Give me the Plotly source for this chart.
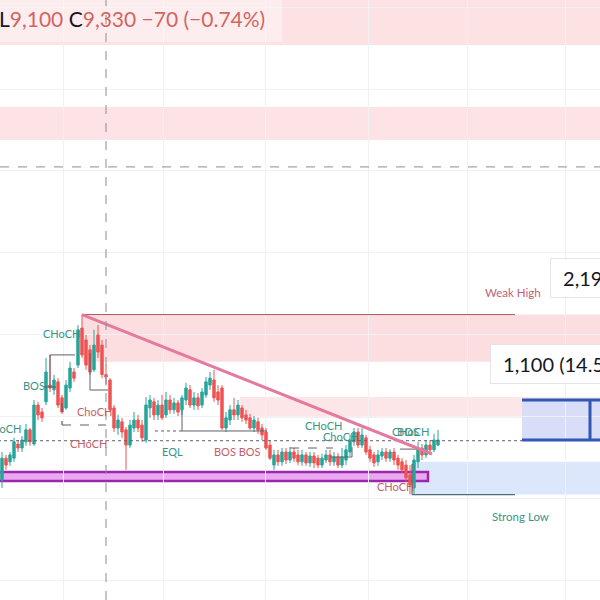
import plotly.graph_objects as go

# ---------------- data ----------------
bar_index = list(range(110))
opens = [6500, 7100, 7000, 7100, 7490, 7380, 7550, 7880, 7490, 8560,
         8370, 8650, 9110, 8980, 9200, 8760, 8480, 9030, 9470, 9660,
         10680, 10350, 10080, 9530, 10490, 10210, 9400, 9250, 8480, 7930,
         8100, 7880, 7460, 7930, 8150, 8010, 7600, 8480, 8650, 8290,
         8560, 8290, 8700, 8430, 8620, 8430, 8700, 8980, 8560, 8760,
         8560, 8840, 9110, 9250, 8920, 9030, 7930, 8150, 8430, 8290,
         8480, 8290, 8210, 7930, 8100, 7930, 7820, 7460, 6910, 7190,
         7000, 7270, 7050, 7270, 7190, 7000, 7190, 6970, 7160, 7100,
         6910, 7050, 7190, 7000, 7130, 6910, 7050, 7270, 7550, 7820,
         7460, 7660, 7330, 7190, 7000, 7160, 7270, 7100, 7270, 7100,
         7000, 6910, 6640, 6280, 7000, 7380, 7190, 7460, 7330, 7460]
highs = [7270, 7190, 7270, 7660, 7600, 7710, 8040, 7930, 8700, 8650,
         8480, 9860, 9940, 9390, 9300, 8840, 9250, 9750, 9580, 10760,
         11050, 10490, 10210, 10630, 10760, 10350, 9660, 9300, 8560, 8290,
         8210, 7960, 8150, 8370, 8290, 8150, 8780, 8840, 8760, 8700,
         8840, 8920, 8840, 8760, 8700, 8840, 9170, 9110, 8920, 8890,
         9030, 9330, 9470, 9530, 9110, 9110, 8370, 8560, 8760, 8700,
         8560, 8430, 8320, 8260, 8210, 8040, 7930, 7600, 7330, 7330,
         7380, 7380, 7410, 7380, 7330, 7330, 7270, 7270, 7270, 7190,
         7220, 7330, 7330, 7270, 7240, 7380, 7460, 7740, 7930, 7930,
         7930, 7740, 7440, 7270, 7330, 7380, 7380, 7350, 7380, 7190,
         7100, 7050, 6910, 7190, 7550, 7490, 7600, 7600, 7770, 7880]
lows = [6280, 6780, 6890, 7000, 7270, 7270, 7440, 7440, 7440, 8150,
        8100, 8560, 8920, 8840, 8480, 8320, 8430, 8920, 9200, 9580,
        9860, 9530, 9390, 9470, 9860, 9300, 9100, 8370, 7820, 7740,
        7660, 6780, 7380, 7820, 7820, 7550, 7520, 8210, 8150, 8150,
        8150, 8210, 8320, 8320, 8260, 8290, 8560, 8480, 8430, 8430,
        8480, 8760, 8980, 8650, 8560, 7880, 7820, 8010, 8150, 8150,
        8100, 8040, 7880, 7820, 7770, 7600, 7330, 7050, 6780, 6890,
        6890, 6940, 6970, 7000, 6910, 6890, 6890, 6860, 6830, 6830,
        6830, 6970, 6890, 6890, 6830, 6830, 6910, 7160, 7440, 7380,
        7380, 7190, 7000, 6860, 6890, 7050, 7000, 7000, 6910, 6780,
        6690, 6450, 6100, 6120, 6830, 7050, 7100, 7190, 7270, 7440]
closes = [7100, 6910, 7190, 7550, 7380, 7600, 7880, 7550, 8560, 8290,
          8210, 9470, 9030, 9250, 8560, 8370, 9110, 9580, 9300, 10630,
          9940, 9660, 9470, 10210, 10020, 9400, 9330, 8430, 7930, 8150,
          7820, 7460, 8010, 8150, 7930, 7660, 8560, 8700, 8290, 8560,
          8210, 8700, 8430, 8620, 8370, 8760, 9030, 8560, 8760, 8540,
          8920, 9200, 9300, 8760, 8700, 7930, 8210, 8430, 8290, 8560,
          8210, 8150, 7930, 8150, 7880, 7740, 7380, 7100, 7190, 7000,
          7270, 7050, 7270, 7100, 7000, 7190, 6970, 7160, 6970, 6910,
          7100, 7190, 7000, 7130, 6910, 7130, 7330, 7600, 7820, 7460,
          7740, 7270, 7100, 6970, 7190, 7270, 7100, 7270, 7050, 6910,
          6780, 6560, 6360, 7050, 7380, 7190, 7460, 7330, 7600, 7600]

# key price levels / zones
upper_zone_a = (18460, 19800)
upper_zone_b = (15850, 16760)
weak_high = 11050
supply_zone = (9750, 11050)
supply_zone_2 = (8210, 8780)
entry_price = 7600
target_price = 8700
strong_low = 6100
demand_zone = (6100, 7000)
purple_zone = (6470, 6720)
trend_start = (20, 11050)
trend_end = (107.5, 7215)
crosshair = (26, 15110)

legend_text = ("<span style='color:#131722'>L</span>9,100 "
               "<span style='color:#131722'>C</span>9,330 −70 (−0.74%)")

TEAL = "#3a9488"
RED = "#c25f69"
FONT = "Lato"

fig = go.Figure()
fig.add_trace(go.Candlestick(
    x=bar_index, open=opens, high=highs, low=lows, close=closes,
    increasing=dict(line=dict(color="#26a69a", width=1), fillcolor="#26a69a"),
    decreasing=dict(line=dict(color="#ef5350", width=1), fillcolor="#ef5350"),
    whiskerwidth=0, showlegend=False, hoverinfo="skip"))

XR = 149.5
shapes = []
def rect(x0, x1, y0, y1, fill, layer="below", line=None):
    shapes.append(dict(type="rect", xref="x", yref="y", x0=x0, x1=x1, y0=y0, y1=y1,
                       fillcolor=fill, line=line or dict(width=0), layer=layer))
def seg(x0, y0, x1, y1, color, width=1, dash="solid", layer="above"):
    shapes.append(dict(type="line", xref="x", yref="y", x0=x0, y0=y0, x1=x1, y1=y1,
                       line=dict(color=color, width=width, dash=dash), layer=layer))

rect(-1, XR, upper_zone_a[0], upper_zone_a[1], "#fde2e4")
rect(-1, XR, upper_zone_b[0], upper_zone_b[1], "#fde3e6")
rect(20, XR, supply_zone[0], supply_zone[1], "#fcdde0")
rect(59.5, XR, supply_zone_2[0], supply_zone_2[1], "#fde6e8")
rect(102.5, XR, demand_zone[0], demand_zone[1], "#dce7fb")
rect(130, XR, entry_price, target_price, "#d8def8")
rect(-1, 106.5, purple_zone[0], purple_zone[1], "#eaa8ef",
     line=dict(color="#9b27af", width=2.5))
# legend backdrop
shapes.append(dict(type="rect", xref="paper", yref="paper", x0=0, x1=0.47,
                   y0=1 - 42 / 600, y1=1, fillcolor="rgba(255,255,255,0.4)",
                   line=dict(width=0), layer="above"))

# weak high / strong low lines
seg(20, weak_high, 128.25, weak_high, "#b0585f", 1)
seg(102.5, strong_low, 128.25, strong_low, "#4d6f78", 1.2)
seg(102.5, strong_low, 102.5, demand_zone[1] - 60, "#4d6f78", 1.2)

# long position box lines
seg(130, target_price, XR, target_price, "#3157b7", 3)
seg(130, entry_price, XR, entry_price, "#3157b7", 3)
seg(147, entry_price, 147, target_price, "#3157b7", 3)

# price line
seg(-1, 7580, 130, 7580, "#5d606b", 1, "dot")

# market-structure lines
seg(12, 9940, 18.25, 9940, "#5d606b")
seg(12, 9940, 12, 9030, "#5d606b")
seg(10.5, 9060, 13.5, 9060, "#5d606b")
seg(22, 9990, 22, 8975, "#5d606b")
seg(22, 8975, 26.5, 8975, "#5d606b")
seg(15, 8620, 15, 8012, "#5d606b", 1.2, "dash")
seg(15, 8012, 26, 8012, "#5d606b", 1.2, "dash")
seg(38.25, 7848, 45, 7848, "#5d606b", 1, "dot")
seg(45, 7848, 66.25, 7848, "#5d606b")
seg(45, 8425, 45, 7848, "#5d606b")
seg(72, 7380, 82.75, 7380, "#5d606b", 1, "dash")
seg(82, 7133, 87.5, 7133, "#5d606b")
seg(87.5, 7133, 87.5, 7400, "#5d606b")
seg(99.5, 7350, 105, 7350, "#5d606b")

# trend line
seg(trend_start[0], trend_start[1], trend_end[0], trend_end[1], "#e47aa0", 3)

# crosshair
shapes.append(dict(type="line", xref="x", yref="paper", x0=crosshair[0], x1=crosshair[0],
                   y0=0, y1=1, line=dict(color="#8a8d96", width=1, dash="dash"), layer="above"))
shapes.append(dict(type="line", xref="paper", yref="y", x0=0, x1=1, y0=crosshair[1],
                   y1=crosshair[1], line=dict(color="#8a8d96", width=1, dash="dash"), layer="above"))

anns = []
def label(x, y, text, color, size=11, xanchor="center"):
    anns.append(dict(x=x, y=y, xref="x", yref="y", text=text, showarrow=False,
                     xanchor=xanchor, yanchor="middle",
                     font=dict(family=FONT, size=size, color=color)))

label(14.75, 10542, "CHoCH", TEAL)
label(8, 9112, "BOS", TEAL)
label(5.2, 7930, "CHoCH", TEAL, xanchor="right")
label(23, 8397, "ChoCH", RED)
label(21.5, 7517, "CHoCH", RED)
label(42.5, 7297, "EQL", TEAL)
label(58.75, 7297, "BOS BOS", RED)
label(80.25, 8012, "CHoCH", TEAL)
label(84.5, 7710, "ChoCH", TEAL)
label(102, 7847, "CHoCH", TEAL)
label(101.5, 7847, "BOS", TEAL)
label(98.25, 6335, "CHoCH", RED)
label(127.75, 11670, "Weak High", "#c0607a", size=11.5)
label(129.5, 5510, "Strong Low", TEAL, size=11.5)

for x, y, txt in [(122, 9690, "&nbsp;1,100 (14.5%)"), (137, 12055, "&nbsp;2,190 (28.8%)")]:
    anns.append(dict(x=x, y=y, xref="x", yref="y", text=txt, showarrow=False,
                     xanchor="left", yanchor="middle", align="left",
                     font=dict(family=FONT, size=20, color="#131722"),
                     bgcolor="white", bordercolor="#e3e5ea", borderwidth=1, borderpad=7))

anns.append(dict(x=0, y=1 - 19 / 600, xref="paper", yref="paper", text=legend_text,
                 showarrow=False, xanchor="left", yanchor="middle", xshift=-3,
                 font=dict(family=FONT, size=21, color="#d0665f")))

fig.update_layout(
    width=600, height=600, margin=dict(l=0, r=0, t=0, b=0),
    paper_bgcolor="white", plot_bgcolor="white", boxgap=0.15,
    shapes=shapes, annotations=anns, showlegend=False,
    xaxis=dict(range=[-0.5, XR], rangeslider=dict(visible=False), showticklabels=False,
               tickvals=[15.25, 40.25, 65.75, 91.5, 116.25, 140.75], ticks="",
               showgrid=True, gridcolor="#f0f1f4", zeroline=False, showline=False),
    yaxis=dict(range=[3200, 19700], showticklabels=False, ticks="",
               tickvals=[3750, 6000, 8250, 10500, 12750, 15000, 17250, 19500],
               showgrid=True, gridcolor="#f0f1f4", zeroline=False, showline=False),
)

fig.write_html("out.html", config={"displayModeBar": False},
               post_script="document.body.style.margin='0';document.body.style.overflow='hidden';")
